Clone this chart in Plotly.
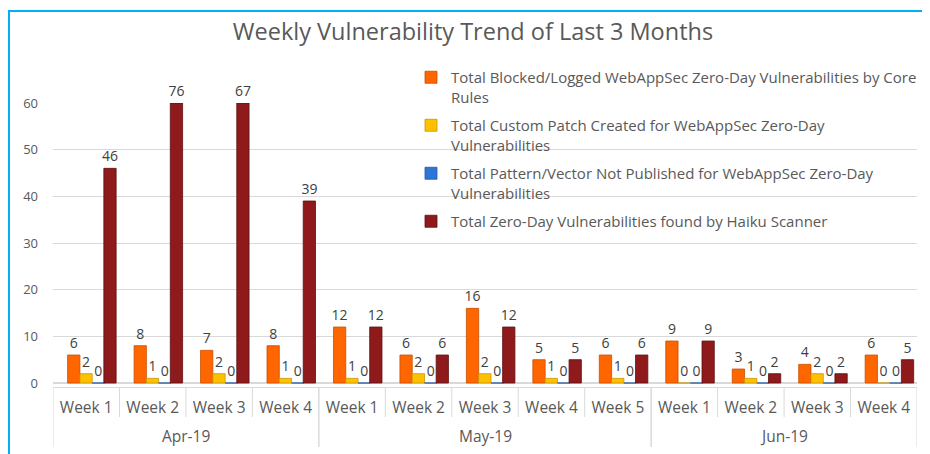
import plotly.graph_objects as go
import numpy as np

months = ["Apr-19"] * 4 + ["May-19"] * 5 + ["Jun-19"] * 4
weeks = ["Week 1", "Week 2", "Week 3", "Week 4",
         "Week 1", "Week 2", "Week 3", "Week 4", "Week 5",
         "Week 1", "Week 2", "Week 3", "Week 4"]

blocked = [6, 8, 7, 8, 12, 6, 16, 5, 6, 9, 3, 4, 6]
custom_patch = [2, 1, 2, 1, 1, 2, 2, 1, 1, 0, 1, 2, 0]
not_published = [0, 0, 0, 0, 0, 0, 0, 0, 0, 0, 0, 0, 0]
haiku = [46, 76, 67, 39, 12, 6, 12, 5, 6, 9, 2, 2, 5]

series_names = [
    "Total Blocked/Logged WebAppSec Zero-Day Vulnerabilities by Core<br>Rules",
    "Total Custom Patch Created for WebAppSec Zero-Day<br>Vulnerabilities",
    "Total Pattern/Vector Not Published for WebAppSec Zero-Day<br>Vulnerabilities",
    "Total Zero-Day Vulnerabilities found by Haiku Scanner",
]
colors = ["#FF6600", "#FFC000", "#2E75D6", "#8E1A1C"]
edge_colors = ["#C84E00", "#C99700", "#1F5AA8", "#5E0F10"]
offsets = [-0.28, -0.095, 0.09, 0.265]
Y_MAX = 60

# page has an 8px body margin: work in page pixels, convert to figure pixels
OFF = 8
PAGE_W, PAGE_H = 930, 454
W, H = PAGE_W - OFF, PAGE_H - OFF
PLOT_L, PLOT_R, PLOT_T, PLOT_B = 53, 917, 103, 387  # page pixels
ML, MR = PLOT_L - OFF, PAGE_W - PLOT_R
MT, MB = PLOT_T - OFF, PAGE_H - PLOT_B
PW, PH = PLOT_R - PLOT_L, PLOT_B - PLOT_T


def px_x(px):
    return (px - PLOT_L) / PW


def px_y(py):
    return (PLOT_B - py) / PH


# unique category keys, shown as week names
cat_keys = [f"{m} {w}" for m, w in zip(months, weeks)]

fig = go.Figure()
for vals, name, col, ecol, off in zip(
        [blocked, custom_patch, not_published, haiku],
        series_names, colors, edge_colors, offsets):
    shown = np.minimum(np.array(vals), Y_MAX)
    fig.add_trace(go.Bar(
        x=cat_keys, y=shown, name=name,
        text=[str(v) for v in vals], textposition="outside",
        textfont=dict(family="Open Sans", size=14, color="#404040"),
        constraintext="none", cliponaxis=False,
        offset=off, width=0.185,
        marker=dict(color=col, line=dict(color=ecol, width=0.8)),
        legendgroup=name,
    ))

fig.update_layout(
    width=W, height=H,
    margin=dict(l=ML, r=MR, t=MT, b=MB, autoexpand=False),
    paper_bgcolor="white", plot_bgcolor="white",
    barmode="overlay",
    font=dict(family="Open Sans", color="#595959"),
    title=dict(text="Weekly Vulnerability Trend of Last 3 Months",
               x=(473 - OFF) / W, xanchor="center",
               y=1 - (32 - OFF) / H, yanchor="middle",
               font=dict(size=23.5, color="#595959", family="Open Sans")),
    legend=dict(x=px_x(411), xanchor="left", y=px_y(61), yanchor="top",
                bgcolor="rgba(0,0,0,0)", font=dict(size=15, color="#595959"),
                valign="top", tracegroupgap=6, traceorder="grouped"),
    showlegend=True,
)
fig.update_yaxes(range=[-0.85, Y_MAX], dtick=10, showgrid=True,
                 gridcolor="#D9D9D9", gridwidth=1, zeroline=True,
                 zerolinecolor="#D9D9D9", showline=False,
                 tickfont=dict(size=13, color="#595959"),
                 ticklabelstandoff=14)
fig.update_xaxes(type="category", categoryorder="array", categoryarray=cat_keys,
                 tickmode="array", tickvals=cat_keys, ticktext=weeks,
                 showline=True, linecolor="#D9D9D9", ticks="",
                 ticklabelstandoff=6, range=[-0.5, len(cat_keys) - 0.5],
                 tickfont=dict(size=15.5, color="#595959"))

line_style = dict(color="#D9D9D9", width=1)
# week separators and month dividers
month_order = list(dict.fromkeys(months))
for m in month_order:
    idx = [i for i, mm in enumerate(months) if mm == m]
    start, end = idx[0], idx[-1]
    for b in range(start, end):
        fig.add_shape(type="line", xref="x", yref="paper",
                      x0=b + 0.5, x1=b + 0.5, y0=px_y(387), y1=px_y(417),
                      line=line_style)
    for b in (start - 0.5, end + 0.5):
        fig.add_shape(type="line", xref="x", yref="paper",
                      x0=b, x1=b, y0=px_y(387), y1=px_y(447),
                      line=line_style)
    fig.add_annotation(text=m, xref="x", yref="paper",
                       x=(start + end) / 2, y=px_y(436),
                       xanchor="center", yanchor="middle", showarrow=False,
                       font=dict(size=15.5, color="#595959"))

fig.add_shape(type="line", xref="paper", yref="paper",
              x0=px_x(0), x1=px_x(PAGE_W), y0=px_y(11), y1=px_y(11),
              line=dict(color="#00B0F0", width=2))
fig.add_shape(type="line", xref="paper", yref="paper",
              x0=px_x(9), x1=px_x(9), y0=px_y(11), y1=px_y(PAGE_H),
              line=dict(color="#00B0F0", width=2))

fig.write_html("out.html")
